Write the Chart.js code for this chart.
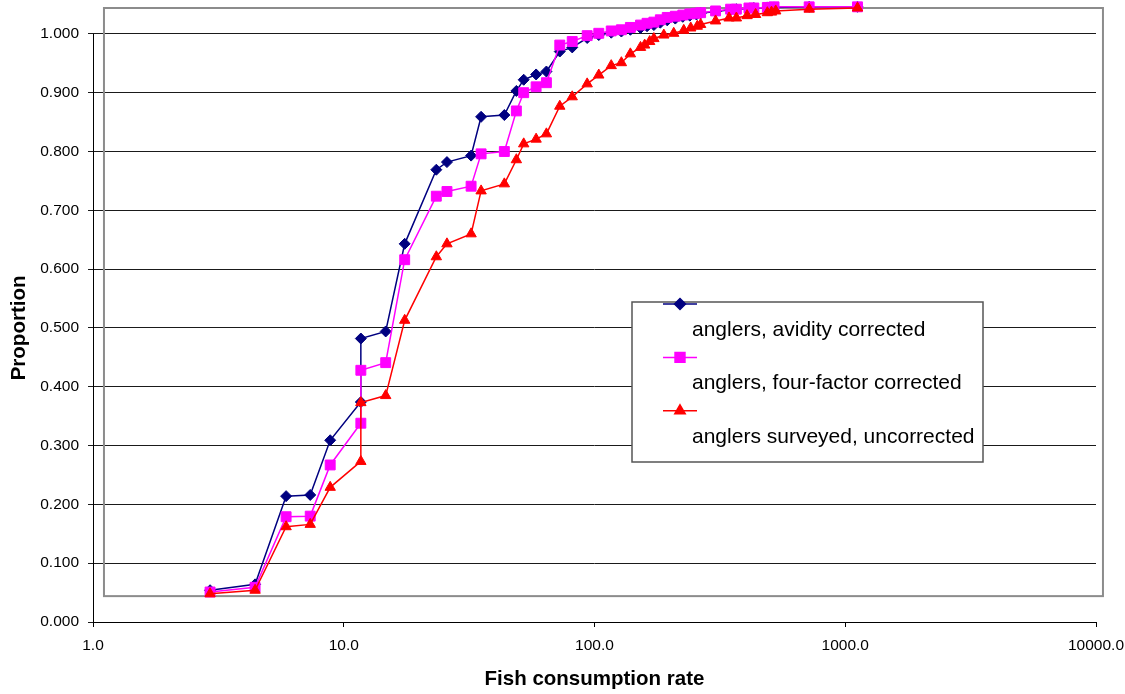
<!DOCTYPE html>
<html lang="en">
<head>
<meta charset="UTF-8">
<title>Fish consumption rate - cumulative proportion</title>
<script src="https://cdn.jsdelivr.net/npm/chart.js"></script>
<style>
  html, body { margin: 0; padding: 0; background: #fff; }
  .wrap { width: 1125px; height: 694px; position: relative; }
</style>
</head>
<body>
<div class="wrap"><canvas id="cdfChart"></canvas></div>
<script>
// consumption rates (x) shared by the two corrected series
const rateCorrected = [2.93, 4.43, 5.89, 7.35, 8.83, 11.7, 11.7, 14.7, 17.5, 23.4, 25.8, 32.2, 35.3, 43.7,
    48.8, 52.2, 58.5, 64.3, 72.7, 81.5, 93.5, 104, 116.6, 128, 139, 152.6, 162, 172.5, 183, 195,
    210, 225, 240, 255, 265, 304, 349, 368, 413, 432, 489, 520, 718, 1119];
const avidity = [0.054, 0.064, 0.214, 0.216, 0.309, 0.374, 0.482, 0.494, 0.643, 0.769, 0.782, 0.793, 0.859, 0.862,
    0.903, 0.922, 0.931, 0.936, 0.970, 0.977, 0.993, 0.998, 1.002, 1.004, 1.007, 1.010, 1.013, 1.015, 1.019, 1.023,
    1.026, 1.029, 1.031, 1.033, 1.035, 1.038, 1.041, 1.042, 1.043, 1.044, 1.045, 1.045, 1.046, 1.046];
const fourFactor = [0.051, 0.059, 0.179, 0.180, 0.267, 0.338, 0.428, 0.441, 0.616, 0.724, 0.732, 0.741, 0.796, 0.800,
    0.869, 0.900, 0.910, 0.917, 0.981, 0.987, 0.997, 1.001, 1.005, 1.007, 1.011, 1.015, 1.018, 1.020, 1.024, 1.028,
    1.030, 1.032, 1.034, 1.035, 1.036, 1.039, 1.042, 1.042, 1.044, 1.044, 1.045, 1.046, 1.046, 1.046];

// surveyed anglers have a few extra rates
const rateSurveyed = [2.93, 4.43, 5.89, 7.35, 8.83, 11.7, 11.7, 14.7, 17.5, 23.4, 25.8, 32.2, 35.3, 43.7,
    48.8, 52.2, 58.5, 64.3, 72.7, 81.5, 93.5, 104, 116.6, 128, 139, 152.6, 158.5, 166, 172.5, 189,
    207, 227, 242, 257, 265, 304, 344, 368, 406, 439, 489, 508, 528, 718, 1119];
const uncorrected = [0.048, 0.054, 0.162, 0.166, 0.229, 0.273, 0.373, 0.385, 0.513, 0.621, 0.643, 0.660, 0.733, 0.745,
    0.786, 0.813, 0.821, 0.830, 0.877, 0.893, 0.915, 0.930, 0.946, 0.951, 0.966, 0.977, 0.981, 0.987, 0.992, 0.998,
    1.001, 1.006, 1.010, 1.013, 1.016, 1.022, 1.027, 1.027, 1.031, 1.033, 1.036, 1.037, 1.039, 1.042, 1.044];

const xTicks = [1, 10, 100, 1000, 10000];
const seriesNames = ["anglers, avidity corrected", "anglers, four-factor corrected", "anglers surveyed, uncorrected"];

const FONT = "'Liberation Sans', Arial, sans-serif";

function toPoints(xs, ys) {
    return xs.map((x, i) => ({ x: x, y: ys[i] }));
}

function makeSeries(label, xs, ys, color, style, radius, order) {
    return {
        label: label,
        data: toPoints(xs, ys),
        borderColor: color,
        backgroundColor: color,
        borderWidth: 1.5,
        pointStyle: style,
        pointRadius: radius,
        pointBorderWidth: 1,
        pointBackgroundColor: color,
        pointBorderColor: color,
        tension: 0,
        clip: false,
        order: order
    };
}

const datasets = [
    makeSeries(seriesNames[0], rateCorrected, avidity, "#000080", "rectRot", 5.5, 3),
    makeSeries(seriesNames[1], rateCorrected, fourFactor, "#FF00FF", "rect", 7, 2),
    makeSeries(seriesNames[2], rateSurveyed, uncorrected, "#FF0000", "triangle", 6, 1)
];

// gray plot frame + y axis line (only 0 to 1.0), drawn under the lines
const framePlugin = {
    id: "frame",
    beforeDatasetsDraw(chart) {
        const ctx = chart.ctx;
        const xs = chart.scales.x, ys = chart.scales.y;
        const left = xs.getPixelForValue(1.106);
        const right = xs.getPixelForValue(10660);
        const top = chart.chartArea.top;
        const bottom = ys.getPixelForValue(0.044);
        ctx.save();
        ctx.strokeStyle = "#8c8c8c";
        ctx.lineWidth = 2;
        ctx.strokeRect(left, top, right - left, bottom - top);
        ctx.strokeStyle = "#000";
        ctx.lineWidth = 1;
        ctx.beginPath();
        ctx.moveTo(chart.chartArea.left + 0.5, ys.getPixelForValue(1));
        ctx.lineTo(chart.chartArea.left + 0.5, ys.getPixelForValue(0));
        ctx.stroke();
        ctx.restore();
    }
};

// Excel style legend: marker sample on one row, name on the row below
const legendPlugin = {
    id: "excelLegend",
    afterDraw(chart) {
        const ctx = chart.ctx;
        const box = { left: 632, top: 302, width: 351, height: 160 };
        ctx.save();
        ctx.fillStyle = "#fff";
        ctx.fillRect(box.left, box.top, box.width, box.height);
        ctx.strokeStyle = "#555";
        ctx.lineWidth = 1.5;
        ctx.strokeRect(box.left, box.top, box.width, box.height);

        chart.data.datasets.forEach((ds, i) => {
            const rowY = box.top + 2 + i * 53.4;
            ctx.strokeStyle = ds.borderColor;
            ctx.lineWidth = 1.5;
            ctx.beginPath();
            ctx.moveTo(663, rowY);
            ctx.lineTo(697, rowY);
            ctx.stroke();
            ctx.fillStyle = ds.borderColor;
            Chart.helpers.drawPoint(ctx, {
                pointStyle: ds.pointStyle,
                radius: ds.pointRadius,
                rotation: 0,
                borderWidth: 1
            }, 680, rowY);

            ctx.fillStyle = "#000";
            ctx.font = "21px " + FONT;
            ctx.textAlign = "left";
            ctx.textBaseline = "middle";
            ctx.fillText(ds.label, 692, rowY + 26);
        });

        // y axis title, centred on the 0..1 range
        const ys = chart.scales.y;
        ctx.translate(19, ys.getPixelForValue(0.5));
        ctx.rotate(-Math.PI / 2);
        ctx.fillStyle = "#000";
        ctx.font = "bold 20.5px " + FONT;
        ctx.textAlign = "center";
        ctx.textBaseline = "middle";
        ctx.fillText("Proportion", 0, 0);
        ctx.restore();
    }
};

new Chart(document.getElementById("cdfChart").getContext("2d"), {
    type: "line",
    data: { datasets: datasets },
    options: {
        responsive: true,
        maintainAspectRatio: false,
        animation: false,
        layout: { padding: { top: 7, right: 29, left: 0, bottom: 0 } },
        plugins: {
            legend: { display: false },
            tooltip: { enabled: false }
        },
        scales: {
            x: {
                type: "logarithmic",
                min: 1,
                max: 10000,
                afterBuildTicks: (scale) => {
                    scale.ticks = xTicks.map(v => ({ value: v }));
                },
                afterFit: (scale) => {
                    scale.height = 72;
                    scale.paddingLeft = 0;
                    scale.paddingRight = 0;
                },
                ticks: {
                    autoSkip: false,
                    maxRotation: 0,
                    padding: 9,
                    color: "#000",
                    font: { family: FONT, size: 15.5 },
                    callback: (v) => Number(v).toFixed(1)
                },
                grid: { drawOnChartArea: false, tickLength: 5, color: "#000" },
                border: { display: true, color: "#000", width: 1 },
                title: {
                    display: true,
                    text: "Fish consumption rate",
                    color: "#000",
                    font: { family: FONT, size: 20.5, weight: "bold" },
                    padding: { top: 0, bottom: 2 }
                }
            },
            y: {
                type: "linear",
                min: 0,
                max: 1.044,
                afterFit: (scale) => {
                    scale.width = 93;
                    scale.paddingTop = 0;
                    scale.paddingBottom = 0;
                },
                ticks: {
                    stepSize: 0.1,
                    includeBounds: false,
                    padding: 9,
                    color: "#000",
                    font: { family: FONT, size: 15.5 },
                    callback: (v) => Number(v).toFixed(3)
                },
                grid: { color: "#1a1a1a", lineWidth: 1, tickLength: 5 },
                border: { display: false }
            }
        }
    },
    plugins: [framePlugin, legendPlugin]
});
</script>
</body>
</html>
